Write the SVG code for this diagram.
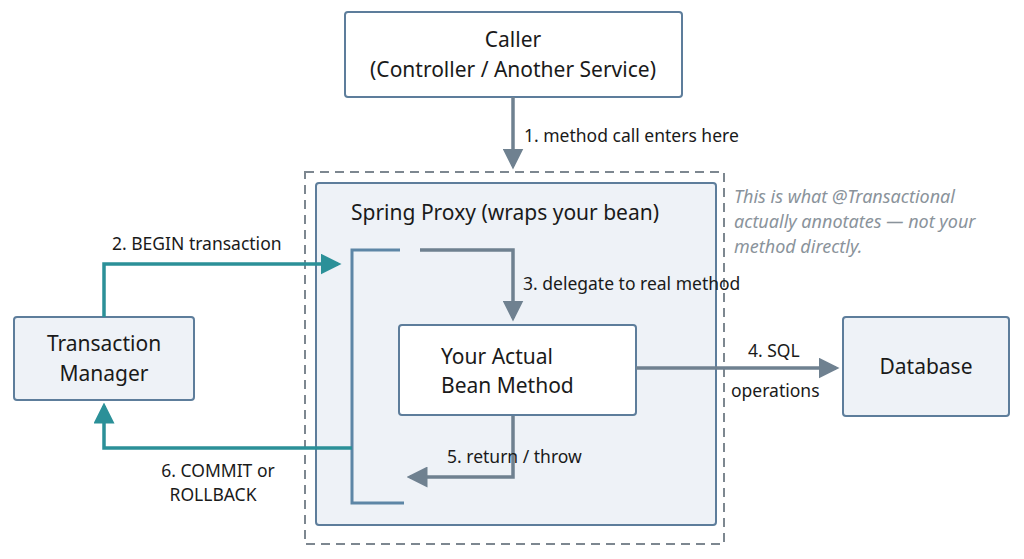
<svg xmlns="http://www.w3.org/2000/svg" width="1024" height="559" viewBox="0 0 1024 559">
<style>
text{font-family:"Noto Sans","DejaVu Sans",sans-serif;fill:#1a1a1a}
.n{fill:#eef2f7;stroke:#5d7d9b;stroke-width:2}
.w{fill:#fff;stroke:#5d7d9b;stroke-width:2}
.t{font-size:21px;text-anchor:middle}
.l{font-size:17.5px}
.g{stroke:#6f8190;stroke-width:3.5;fill:none}
.c{stroke:#2b9098;stroke-width:3.5;fill:none}
.b{stroke:#5d86a6;stroke-width:3;fill:none}
</style>
<defs>
<marker id="ag" markerWidth="6" markerHeight="6" refX="5" refY="3" orient="auto" markerUnits="strokeWidth"><path d="M0,0L6,3L0,6z" fill="#6f8190"/></marker>
<marker id="ac" markerWidth="6" markerHeight="6" refX="5" refY="3" orient="auto" markerUnits="strokeWidth"><path d="M0,0L6,3L0,6z" fill="#2b9098"/></marker>
</defs>
<rect width="1024" height="559" fill="#fff"/>
<rect x="305" y="172" width="419" height="372" fill="none" stroke="#7d8790" stroke-width="2" stroke-dasharray="9,6"/>
<g id="proxy"><rect class="n" x="316" y="183" width="400" height="342" rx="3"/>
<text x="351" y="220" style="font-size:21px">Spring Proxy (wraps your bean)</text></g>
<g id="caller"><rect class="w" x="345" y="12" width="337" height="85" rx="3"/>
<text x="513" y="47" class="t">Caller</text><text x="513" y="77" class="t">(Controller / Another Service)</text></g>
<g id="tm"><rect class="n" x="14" y="317" width="180" height="83" rx="3"/>
<text x="104" y="351" class="t">Transaction</text><text x="104" y="381" class="t">Manager</text></g>
<g id="db"><rect class="n" x="843" y="317" width="166" height="99" rx="3"/>
<text x="926" y="374" class="t">Database</text></g>
<g id="bean"><rect class="w" x="399" y="325" width="237" height="90" rx="3"/>
<text x="441" y="364" style="font-size:21px">Your Actual</text><text x="441" y="393" style="font-size:21px">Bean Method</text></g>
<text x="734" y="203" class="l" style="fill:#8a939b;font-style:italic;font-size:18px"><tspan x="734">This is what @Transactional</tspan><tspan x="734" dy="25">actually annotates — not your</tspan><tspan x="734" dy="25">method directly.</tspan></text>
<g id="connectors">
<path class="g" d="M513,97V166" marker-end="url(#ag)"/>
<path class="b" d="M400,250H352V503H404"/>
<path class="g" d="M420,250H513V318" marker-end="url(#ag)"/>
<path class="g" d="M513,416V477H410" marker-end="url(#ag)"/>
<path class="g" d="M636,368H836" marker-end="url(#ag)"/>
<path class="c" d="M104,317V264H338" marker-end="url(#ac)"/>
<path class="c" d="M352,448H104V406" marker-end="url(#ac)"/>
</g>
<text x="524" y="142" class="l">1. method call enters here</text>
<text x="112" y="250" class="l">2. BEGIN transaction</text>
<text x="523" y="290" class="l">3. delegate to real method</text>
<text x="748" y="357" class="l">4. SQL</text>
<text x="731" y="397" class="l">operations</text>
<text x="447" y="463" class="l">5. return / throw</text>
<text x="218" y="477" class="l" style="text-anchor:middle">6. COMMIT or</text>
<text x="213" y="501" class="l" style="text-anchor:middle">ROLLBACK</text>
</svg>
